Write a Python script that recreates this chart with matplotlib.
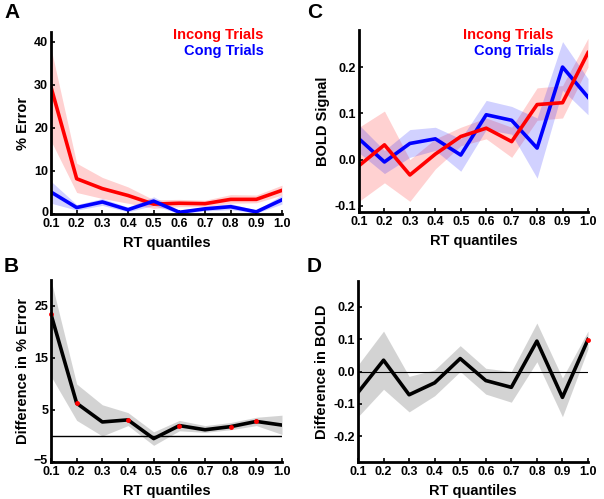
import matplotlib
matplotlib.use("Agg")
import matplotlib.pyplot as plt
import matplotlib.transforms as mtransforms
import numpy as np

plt.rcParams['font.family'] = ['Liberation Sans', 'DejaVu Sans']
plt.rcParams['font.weight'] = 'bold'

quantiles = [0.1, 0.2, 0.3, 0.4, 0.5, 0.6, 0.7, 0.8, 0.9, 1.0]
tick_labels = ["0.1", "0.2", "0.3", "0.4", "0.5", "0.6", "0.7", "0.8", "0.9", "1.0"]

# Panel A: % Error
err_incong = [29.5, 8.2, 5.9, 4.3, 2.3, 2.5, 2.4, 3.4, 3.4, 5.5]
err_incong_lo = [17.0, 5.0, 3.6, 2.5, 1.3, 1.7, 1.7, 2.5, 2.6, 4.4]
err_incong_hi = [38.5, 11.8, 8.5, 6.3, 3.3, 3.4, 3.2, 4.5, 4.4, 6.7]
err_cong = [5.1, 1.5, 2.8, 1.0, 3.0, 0.4, 1.2, 1.7, 0.5, 3.3]
err_cong_lo = [2.5, 0.9, 2.0, 0.5, 2.0, 0.1, 0.7, 1.0, 0.2, 2.3]
err_cong_hi = [7.6, 2.2, 3.6, 1.6, 4.0, 0.8, 1.7, 2.4, 0.9, 4.4]

# Panel B: difference in % error
diff_err = [23.4, 6.3, 2.7, 3.1, -0.5, 2.0, 1.2, 1.8, 2.8, 2.1]
diff_err_lo = [11.5, 3.0, 0.0, 2.0, -1.8, 1.0, 0.7, 1.2, 2.0, 0.3]
diff_err_hi = [30.0, 10.0, 6.0, 4.5, 0.8, 3.0, 2.0, 2.6, 3.6, 4.0]
diff_err_sig = [True, True, False, True, False, True, False, True, True, False]

# Panel C: BOLD signal
bold_incong = [-0.013, 0.032, -0.033, 0.012, 0.050, 0.068, 0.039, 0.119, 0.123, 0.231]
bold_incong_lo = [-0.090, -0.050, -0.090, -0.020, 0.030, 0.045, 0.005, 0.085, 0.090, 0.200]
bold_incong_hi = [0.070, 0.105, 0.000, 0.045, 0.070, 0.090, 0.070, 0.155, 0.160, 0.262]
bold_cong = [0.045, -0.005, 0.035, 0.045, 0.010, 0.097, 0.085, 0.025, 0.200, 0.135]
bold_cong_lo = [0.015, -0.030, 0.005, 0.020, -0.025, 0.065, 0.055, -0.040, 0.150, 0.097]
bold_cong_hi = [0.075, 0.020, 0.065, 0.070, 0.045, 0.128, 0.115, 0.090, 0.255, 0.175]

# Panel D: difference in BOLD
diff_bold = [-0.065, 0.035, -0.072, -0.035, 0.040, -0.028, -0.049, 0.094, -0.080, 0.099]
diff_bold_lo = [-0.140, -0.055, -0.125, -0.075, 0.000, -0.070, -0.095, 0.030, -0.140, 0.070]
diff_bold_hi = [0.020, 0.125, -0.015, 0.005, 0.080, 0.010, 0.000, 0.150, -0.020, 0.125]
diff_bold_sig = [False, False, False, False, False, False, False, False, False, True]

W, H = 604, 499
fig = plt.figure(figsize=(W / 100, H / 100), dpi=100)


def make_ax(left, right, top, bottom):
    return fig.add_axes([left / W, 1 - bottom / H, (right - left) / W, (bottom - top) / H])


def style(ax, ylim, yticks, ylabel, lift_bottom=False):
    ax.set_xlim(0.1, 1.0)
    ax.set_ylim(*ylim)
    ax.set_xticks(quantiles)
    ax.set_xticklabels(tick_labels)
    ax.set_yticks(yticks)
    for s in ['top', 'right']:
        ax.spines[s].set_visible(False)
    for s in ['left', 'bottom']:
        ax.spines[s].set_linewidth(2.0)
        ax.spines[s].set_color('black')
    ax.tick_params(direction='in', length=3, width=1.2, labelsize=9, pad=2)
    ax.tick_params(axis='x', pad=3)
    for lab in ax.get_xticklabels() + ax.get_yticklabels():
        lab.set_fontweight('bold')
    if lift_bottom:
        lab = ax.get_yticklabels()[0]
        lab.set_transform(lab.get_transform() +
                          mtransforms.ScaledTranslation(0, 3 / 100, fig.dpi_scale_trans))
    ax.set_xlabel('RT quantiles', fontsize=10.5, fontweight='bold', labelpad=4)
    ax.set_ylabel(ylabel, fontsize=10.5, fontweight='bold', labelpad=3)
    ax.patch.set_alpha(0)


red = '#ff0000'
blue = '#0000ff'
lw = 2.6

# A
axA = make_ax(51, 282, 32, 214)
axA.fill_between(quantiles, err_incong_lo, err_incong_hi, color=red, alpha=0.18, lw=0)
axA.fill_between(quantiles, err_cong_lo, err_cong_hi, color=blue, alpha=0.18, lw=0)
axA.plot(quantiles, err_incong, color=red, lw=lw)
axA.plot(quantiles, err_cong, color=blue, lw=lw)
style(axA, (0, 42.3), [0, 10, 20, 30, 40], '% Error', lift_bottom=True)
axA.text(0.92, 0.985, 'Incong Trials', color=red, transform=axA.transAxes,
         ha='right', va='center', fontsize=10.5, fontweight='bold')
axA.text(0.92, 0.895, 'Cong Trials', color=blue, transform=axA.transAxes,
         ha='right', va='center', fontsize=10.5, fontweight='bold')

# C
axC = make_ax(359, 588, 30, 212)
axC.fill_between(quantiles, bold_incong_lo, bold_incong_hi, color=red, alpha=0.18, lw=0)
axC.fill_between(quantiles, bold_cong_lo, bold_cong_hi, color=blue, alpha=0.18, lw=0)
axC.plot(quantiles, bold_cong, color=blue, lw=lw)
axC.plot(quantiles, bold_incong, color=red, lw=lw)
style(axC, (-0.113, 0.28), [-0.1, 0.0, 0.1, 0.2], 'BOLD Signal')
axC.set_yticklabels(['-0.1', '0.0', '0.1', '0.2'])
axC.text(0.85, 0.975, 'Incong Trials', color=red, transform=axC.transAxes,
         ha='right', va='center', fontsize=10.5, fontweight='bold')
axC.text(0.85, 0.885, 'Cong Trials', color=blue, transform=axC.transAxes,
         ha='right', va='center', fontsize=10.5, fontweight='bold')

# B
axB = make_ax(51, 282, 280, 462)
axB.fill_between(quantiles, diff_err_lo, diff_err_hi, color='#cccccc', alpha=0.85, lw=0)
axB.axhline(0, color='black', lw=1.0)
axB.plot(quantiles, diff_err, color='black', lw=lw)
sx = [q for q, s in zip(quantiles, diff_err_sig) if s]
sy = [v for v, s in zip(diff_err, diff_err_sig) if s]
axB.plot(sx, sy, 'o', color=red, ms=3.5, mec='none', clip_on=False)
style(axB, (-5, 30), [-5, 5, 15, 25], 'Difference in % Error', lift_bottom=True)

# D
axD = make_ax(358, 588, 281, 462)
axD.fill_between(quantiles, diff_bold_lo, diff_bold_hi, color='#cccccc', alpha=0.85, lw=0)
axD.axhline(0, color='black', lw=0.8)
axD.plot(quantiles, diff_bold, color='black', lw=lw)
sx = [q for q, s in zip(quantiles, diff_bold_sig) if s]
sy = [v for v, s in zip(diff_bold, diff_bold_sig) if s]
axD.plot(sx, sy, 'o', color=red, ms=3.5, mec='none', clip_on=False)
style(axD, (-0.28, 0.28), [-0.2, -0.1, 0.0, 0.1, 0.2], 'Difference in BOLD')
axD.set_yticklabels(['-0.2', '-0.1', '0.0', '0.1', '0.2'])

# panel letters
for lbl, x, y in [('A', 4, 12), ('C', 307, 12), ('B', 4, 266), ('D', 307, 266)]:
    fig.text(x / W, 1 - y / H, lbl, fontsize=15, fontweight='bold', ha='left', va='center')

fig.savefig('out.png', dpi=100)
